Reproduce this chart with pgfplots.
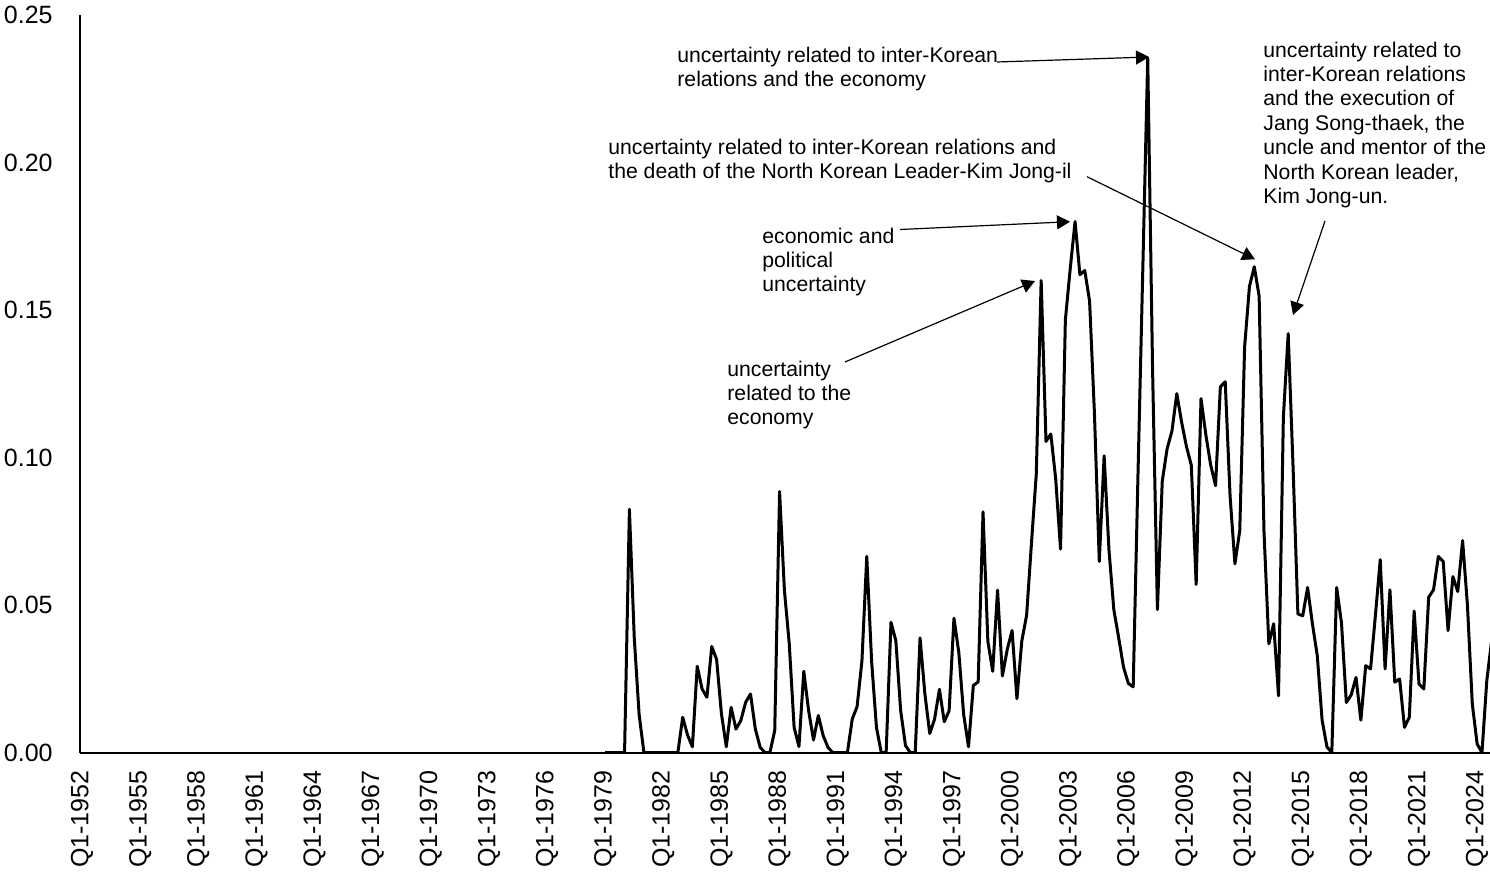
\documentclass[border=0pt]{standalone}
\usepackage{fontspec}
\setmainfont{Liberation Sans}
\usepackage{pgfplots}
\pgfplotsset{compat=1.18}
\usetikzlibrary{arrows.meta}

\pgfplotstableread{
q v
108 0
109 0
110 0
111 0
112 0
113 0.0825
114 0.039
115 0.013
116 0
117 0
118 0
119 0
120 0
121 0
122 0
123 0
124 0.012
125 0.006
126 0.002
127 0.0293
128 0.0216
129 0.0188
130 0.036
131 0.0316
132 0.0132
133 0.002
134 0.0154
135 0.008
136 0.0109
137 0.0171
138 0.0199
139 0.008
140 0.0018
141 0
142 0
143 0.0075
144 0.0885
145 0.055
146 0.0369
147 0.0086
148 0.0021
149 0.0276
150 0.0142
151 0.0043
152 0.0126
153 0.0058
154 0.0018
155 0
156 0
157 0
158 0
159 0.0114
160 0.0156
161 0.031
162 0.0665
163 0.031
164 0.0086
165 0
166 0
167 0.0442
168 0.038
169 0.0142
170 0.0024
171 0
172 0
173 0.0389
174 0.0199
175 0.0065
176 0.0114
177 0.0215
178 0.0105
179 0.0142
180 0.0456
181 0.034
182 0.013
183 0.002
184 0.0228
185 0.024
186 0.0816
187 0.0377
188 0.0276
189 0.0551
190 0.026
191 0.035
192 0.0414
193 0.0183
194 0.0378
195 0.0466
196 0.071
197 0.0946
198 0.160
199 0.1055
200 0.108
201 0.0928
202 0.069
203 0.1467
204 0.164
205 0.180
206 0.162
207 0.1634
208 0.153
209 0.115
210 0.0648
211 0.1006
212 0.0687
213 0.0485
214 0.039
215 0.029
216 0.0235
217 0.0223
218 0.095
219 0.165
220 0.2355
221 0.13
222 0.0485
223 0.092
224 0.103
225 0.109
226 0.1217
227 0.112
228 0.1037
229 0.0974
230 0.057
231 0.120
232 0.1077
233 0.0975
234 0.0905
235 0.124
236 0.1257
237 0.087
238 0.064
239 0.0753
240 0.1375
241 0.158
242 0.1647
243 0.1547
244 0.075
245 0.0369
246 0.0437
247 0.0193
248 0.1137
249 0.142
250 0.097
251 0.047
252 0.0464
253 0.056
254 0.0437
255 0.0329
256 0.011
257 0.002
258 0
259 0.056
260 0.044
261 0.017
262 0.0196
263 0.0255
264 0.011
265 0.0295
266 0.0284
267 0.0465
268 0.0654
269 0.0284
270 0.0552
271 0.0239
272 0.025
273 0.0086
274 0.012
275 0.048
276 0.0233
277 0.0216
278 0.0527
279 0.0552
280 0.0665
281 0.0648
282 0.0414
283 0.0597
284 0.0546
285 0.0719
286 0.05
287 0.0166
288 0.003
289 0
290 0.0245
291 0.038
}\epu

\begin{document}
\begin{tikzpicture}
\begin{axis}[
    scale only axis,
    width=705.3pt, height=368.85pt,
    xmin=-0.5, xmax=290.7,
    ymin=0, ymax=0.25,
    axis x line*=bottom,
    axis y line*=left,
    axis line style={line width=1pt, black},
    major tick length=0pt,
    xtick={0,12,...,288},
    xticklabels={Q1-1952,Q1-1955,Q1-1958,Q1-1961,Q1-1964,Q1-1967,Q1-1970,Q1-1973,Q1-1976,Q1-1979,Q1-1982,Q1-1985,Q1-1988,Q1-1991,Q1-1994,Q1-1997,Q1-2000,Q1-2003,Q1-2006,Q1-2009,Q1-2012,Q1-2015,Q1-2018,Q1-2021,Q1-2024},
    ytick={0,0.05,0.1,0.15,0.2,0.25},
    yticklabel style={/pgf/number format/.cd, fixed, fixed zerofill, precision=2, assume math mode=true},
    ticklabel style={font=\fontsize{12.5}{15}\selectfont, inner sep=0pt},
    xticklabel style={rotate=90, anchor=east},
    xticklabel shift=8.65pt,
    yticklabel shift=13.3pt,
    clip=true,
]
\addplot[black, line width=1.5pt, line join=round, no markers] table[x=q, y=v] {\epu};
\end{axis}

% annotation texts: anchored at the baseline of their last line
\begin{scope}[font=\fontsize{10.6}{12.2}\selectfont,
    every node/.style={align=left, anchor=base west, inner sep=0pt},
    arr/.style={line width=0.6pt, -{Triangle[length=6.5pt, width=7pt]}}]
  \node at (298.7pt,333.1pt) {uncertainty related to inter-Korean\\relations and the economy};
  \node at (264.2pt,287.1pt) {uncertainty related to inter-Korean relations and\\the death of the North Korean Leader-Kim Jong-il};
  \node at (341.2pt,230.4pt) {economic and\\political\\uncertainty};
  \node at (323.7pt,163.9pt) {uncertainty\\related to the\\economy};
  \node at (591.7pt,274.6pt) {uncertainty related to\\inter-Korean relations\\and the execution of\\Jang Song-thaek, the\\uncle and mentor of the\\North Korean leader,\\Kim Jong-un.};
  \draw[arr] (458.7pt,345.35pt) -- (534.7pt,347.85pt);
  \draw[arr] (503.7pt,288.0pt) -- (587.7pt,246.7pt);
  \draw[arr] (410.2pt,261.6pt) -- (495.2pt,265.5pt);
  \draw[arr] (382.7pt,195.35pt) -- (477.7pt,235.85pt);
  \draw[arr] (622.7pt,265.85pt) -- (606.7pt,218.85pt);
\end{scope}

\pgfresetboundingbox
\path[use as bounding box] (-39.8pt,-60.65pt) rectangle (705.2pt,376.35pt);
\end{tikzpicture}
\end{document}
